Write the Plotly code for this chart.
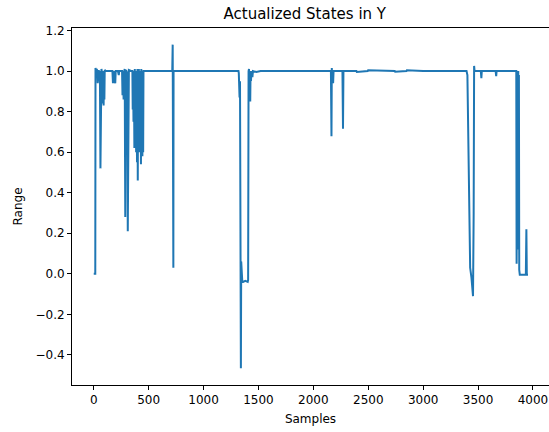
import plotly.graph_objects as go

# Key samples of the actualized Y state signal (sample index, value)
samples = [
    0, 14, 16, 22, 28, 33, 36, 40, 46, 52, 56, 61, 64, 70, 76, 82, 86, 90, 94, 97,
    100, 110, 140, 170, 175, 182, 190, 196, 200, 220, 228, 232, 258, 262, 266, 272,
    278, 282, 287, 291, 298, 304, 310, 314, 320, 340, 352, 355, 358, 362, 366, 370,
    374, 378, 382, 386, 390, 394, 398, 401, 404, 408, 411, 415, 418, 422, 426, 430,
    433, 437, 440, 443, 446, 450, 453, 460, 600, 715, 719, 721, 723, 725, 727,
    1000, 1318, 1321, 1323, 1326, 1328, 1332, 1336, 1340, 1343, 1347, 1350, 1353,
    1360, 1380, 1402, 1406, 1410, 1414, 1418, 1421, 1425, 1428, 1432, 1436, 1445,
    1450, 1480, 1520, 1600, 1700, 1800, 2000, 2160, 2165, 2168, 2172, 2176, 2180,
    2184, 2265, 2270, 2274, 2392, 2396, 2495, 2499, 2741, 2745, 2848, 2852, 3000,
    3200, 3395, 3403, 3428, 3440, 3454, 3460, 3464, 3468, 3525, 3530, 3534, 3660,
    3665, 3669, 3845, 3848, 3851, 3854, 3857, 3860, 3863, 3866, 3869, 3872, 3875,
    3880, 3935, 3940, 3944, 3955,
]
values = [
    0.0, 0.0, 1.015, 1.0, 1.01, 0.99, 0.94, 1.0, 1.005, 0.95, 1.0, 0.52, 1.0, 1.01, 0.99, 0.84, 1.0, 0.83, 1.0, 0.86,
    1.005, 1.0, 1.0, 1.0, 0.94, 1.0, 0.95, 0.94, 1.0, 1.0, 0.98, 1.0, 1.0, 0.88, 1.0, 0.86,
    1.0, 1.01, 0.28, 1.005, 1.0, 0.99, 0.21, 1.0, 1.005, 1.0, 1.0, 0.81, 1.0, 0.75, 1.0, 0.62,
    1.01, 0.7, 1.0, 0.6, 1.0, 0.55, 1.01, 0.46, 1.0, 0.62, 1.01, 0.6, 1.0, 0.65, 1.0, 0.54,
    1.01, 0.62, 1.0, 0.58, 1.0, 0.6, 1.0, 1.0, 1.0, 1.0, 1.13, 0.07, 1.13, 0.03, 1.0,
    1.0, 1.0, 0.99, 0.87, 0.99, 0.87, 0.95, 0.08, -0.465, 0.06, -0.04, 0.05, -0.04,
    -0.04, -0.035, -0.04, -0.03, 1.0, 1.01, 0.86, 1.0, 0.85, 1.0, 0.95, 1.0, 0.97,
    1.0, 0.995, 1.0, 1.0, 1.003, 1.0, 1.0, 1.0, 0.678, 1.015, 0.95, 1.0, 0.94,
    1.0, 1.0, 0.715, 1.0, 1.0, 0.995, 1.0, 1.004, 1.0, 0.996, 1.0, 1.004, 1.0,
    1.0, 1.0, 0.98, 0.03, -0.02, -0.11, 0.3, 1.025, 1.0, 1.0, 0.965, 1.0, 1.0,
    0.975, 1.0, 1.0, 1.0, 0.05, 1.0, 0.1, 1.0, 0.14, 1.0, 0.12, 0.98, 0.02,
    -0.005, -0.005, 0.22, -0.005, -0.005,
]

x_ticks = [0, 500, 1000, 1500, 2000, 2500, 3000, 3500, 4000]
y_ticks = [-0.4, -0.2, 0.0, 0.2, 0.4, 0.6, 0.8, 1.0, 1.2]

font_family = "DejaVu Sans"

fig = go.Figure()
fig.add_trace(go.Scatter(
    x=samples, y=values, mode="lines",
    line=dict(color="#1f77b4", width=2),
    showlegend=False,
))

fig.update_layout(
    width=549, height=432,
    margin=dict(l=72, r=0, t=28, b=47, autoexpand=False),
    paper_bgcolor="white", plot_bgcolor="white",
    font=dict(family=font_family, size=12, color="black"),
    title=dict(text="Actualized States in Y", x=0.488, xref="paper",
               y=1 - 14 / 432, yref="container", xanchor="center", yanchor="middle",
               font=dict(size=15, family=font_family, color="black")),
)
fig.update_xaxes(
    range=[-198, 4146], tickvals=x_ticks, ticks="outside", ticklen=4, tickwidth=1,
    tickcolor="black", showline=True, linecolor="black", linewidth=1, mirror=True,
    showgrid=False, zeroline=False,
    title=dict(text="Samples", standoff=8, font=dict(size=12)),
)
fig.update_yaxes(
    range=[-0.548, 1.212], tickvals=y_ticks, tickformat=".1f", ticks="outside",
    ticklen=4, tickwidth=1, tickcolor="black", showline=True, linecolor="black",
    linewidth=1, mirror=False, showgrid=False, zeroline=False,
    title=dict(text="Range", standoff=10, font=dict(size=12)),
)

fig.write_html("out.html", config={"displayModeBar": False},
               post_script="document.body.style.margin='0';")
